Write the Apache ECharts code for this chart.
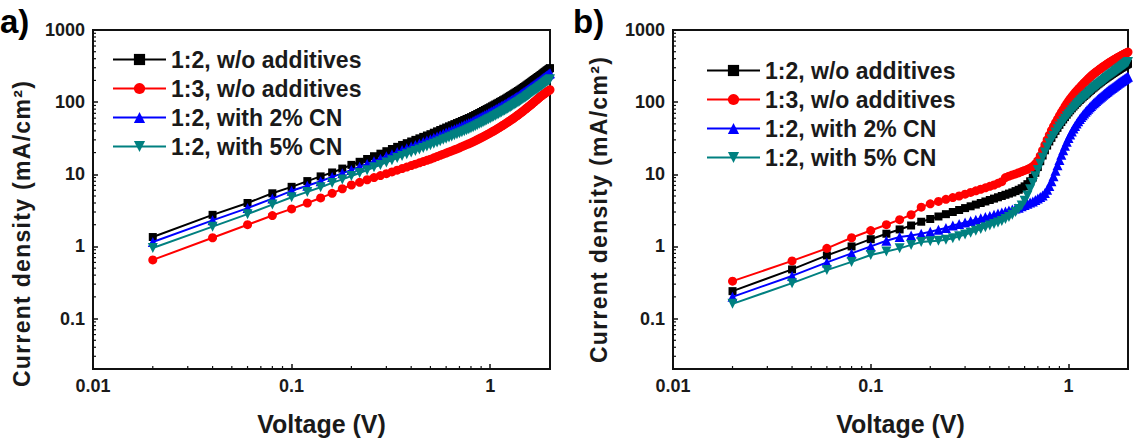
<!DOCTYPE html>
<html>
<head>
<meta charset="utf-8">
<script src="https://cdn.jsdelivr.net/npm/echarts@6/dist/echarts.min.js"></script>
<style>
  html, body { margin: 0; padding: 0; background: #fff; }
  #chart { width: 1143px; height: 441px; }
</style>
</head>
<body>
<div id="chart"></div>
<script>
// voltage points (V), shared by every curve
const voltage = [
  0.02, 0.04, 0.06, 0.08, 0.10, 0.12, 0.14, 0.16, 0.18, 0.20,
  0.22, 0.24, 0.26, 0.28, 0.30, 0.32, 0.34, 0.36, 0.38, 0.40,
  0.42, 0.44, 0.46, 0.48, 0.50, 0.52, 0.54, 0.56, 0.58, 0.60,
  0.62, 0.64, 0.66, 0.68, 0.70, 0.72, 0.74, 0.76, 0.78, 0.80,
  0.82, 0.84, 0.86, 0.88, 0.90, 0.92, 0.94, 0.96, 0.98, 1.00,
  1.02, 1.04, 1.06, 1.08, 1.10, 1.12, 1.14, 1.16, 1.18, 1.20,
  1.22, 1.24, 1.26, 1.28, 1.30, 1.32, 1.34, 1.36, 1.38, 1.40,
  1.42, 1.44, 1.46, 1.48, 1.50, 1.52, 1.54, 1.56, 1.58, 1.60,
  1.62, 1.64, 1.66, 1.68, 1.70, 1.72, 1.74, 1.76, 1.78, 1.80,
  1.82, 1.84, 1.86, 1.88, 1.90, 1.92, 1.94, 1.96, 1.98, 2.00
];

const seriesNames = ['1:2, w/o additives', '1:3, w/o additives', '1:2, with 2% CN', '1:2, with 5% CN'];

// panel a) current density (mA/cm2)
const a12 = [
  1.35, 2.74, 4.0, 5.45, 6.7, 8.05, 9.35, 10.6, 12.0, 13.5,
  14.9, 16.3, 17.8, 19.3, 20.9, 22.4, 24.0, 25.5, 27.0, 28.5,
  30.0, 31.5, 33.0, 34.5, 36.0, 37.7, 39.4, 41.1, 42.8, 44.5,
  46.2, 47.9, 49.6, 51.3, 53.0, 54.8, 56.6, 58.4, 60.2, 62.0,
  64.2, 66.4, 68.6, 70.8, 73.0, 75.4, 77.8, 80.2, 82.6, 85.0,
  87.6, 90.2, 92.8, 95.4, 98.0, 100.8, 103.6, 106.4, 109.2, 112,
  115.3, 118.6, 121.9, 125.2, 128.5, 132, 135.5, 139, 142.5, 146,
  150, 154, 158, 162, 166, 170.5, 175, 179.5, 184, 189,
  193.8, 198.6, 203.4, 208.2, 213, 218, 223, 228, 233, 238,
  243.8, 249.6, 255.4, 261.2, 267, 272.8, 278.6, 284.4, 290.2, 296
];
const a13 = [
  0.65, 1.32, 2.0, 2.68, 3.31, 4.0, 4.7, 5.45, 6.3, 7.1,
  7.75, 8.4, 9.0, 9.6, 10.2, 10.8, 11.4, 12.0, 12.6, 13.2,
  13.8, 14.4, 15.0, 15.6, 16.2, 16.9, 17.6, 18.3, 19.0, 19.7,
  20.4, 21.1, 21.8, 22.5, 23.3, 24.1, 24.9, 25.7, 26.5, 27.3,
  28.2, 29.1, 30.1, 31.1, 32.1, 33.1, 34.1, 35.2, 36.3, 37.4,
  38.6, 39.8, 41.0, 42.3, 43.6, 45.0, 46.4, 47.8, 49.2, 50.7,
  52.3, 53.9, 55.5, 57.2, 58.9, 60.7, 62.5, 64.4, 66.3, 68.3,
  70.4, 72.5, 74.7, 76.9, 79.2, 81.6, 84.0, 86.5, 89.0, 91.6,
  94.3, 97.0, 99.8, 102.6, 105.5, 108.5, 111.5, 114.6, 117.7, 120.9,
  123.5, 126.2, 129.0, 131.8, 134.6, 137.4, 140.2, 143.0, 145.8, 148.6
];
const a2cn = [
  1.15, 2.3, 3.4, 4.6, 5.9, 6.95, 8.0, 9.2, 10.3, 11.5,
  12.7, 13.9, 15.1, 16.4, 17.8, 19.0, 20.4, 21.7, 23.0, 24.2,
  25.5, 26.8, 28.0, 29.3, 30.6, 32.0, 33.5, 34.9, 36.4, 37.8,
  39.3, 40.7, 42.2, 43.6, 45.0, 46.6, 48.1, 49.6, 51.2, 52.7,
  54.6, 56.4, 58.3, 60.2, 62.0, 64.1, 66.1, 68.2, 70.2, 72.3,
  74.5, 76.7, 78.9, 81.1, 83.3, 85.7, 88.1, 90.4, 92.8, 95.2,
  98.0, 100.8, 103.6, 106.4, 109.2, 112.2, 115.2, 118.2, 121.1, 124.1,
  127.5, 130.9, 134.3, 137.7, 141.1, 144.9, 148.8, 152.6, 156.4, 160.7,
  164.7, 168.8, 172.9, 177.0, 181.1, 185.3, 189.6, 193.8, 198.1, 202.3,
  207.2, 212.2, 217.1, 222.0, 227.0, 231.9, 236.8, 241.7, 246.7, 251.6
];
const a5cn = [
  0.95, 1.88, 2.8, 3.8, 4.8, 5.7, 6.6, 7.6, 8.5, 9.45,
  10.4, 11.4, 12.5, 13.5, 14.6, 15.7, 16.8, 17.9, 18.9, 20.0,
  21.0, 22.1, 23.1, 24.2, 25.2, 26.4, 27.6, 28.8, 30.0, 31.2,
  32.3, 33.5, 34.7, 35.9, 37.1, 38.4, 39.6, 40.9, 42.1, 43.4,
  44.9, 46.5, 48.0, 49.6, 51.1, 52.8, 54.5, 56.1, 57.8, 59.5,
  61.3, 63.1, 65.0, 66.8, 68.6, 70.6, 72.5, 74.5, 76.4, 78.4,
  80.7, 83.0, 85.3, 87.6, 90.0, 92.4, 94.9, 97.3, 99.8, 102.2,
  105.0, 107.8, 110.6, 113.4, 116.2, 119.4, 122.5, 125.7, 128.8, 132.3,
  135.7, 139.0, 142.4, 145.7, 149.1, 152.6, 156.1, 159.6, 163.1, 166.6,
  170.7, 174.7, 178.8, 182.8, 186.9, 191.0, 195.0, 199.1, 203.1, 207.2
];

// panel b) current density (mA/cm2)
const b12 = [
  0.24, 0.48, 0.75, 1.0, 1.26, 1.5, 1.72, 1.95, 2.2, 2.4,
  2.6, 2.8, 3.0, 3.2, 3.4, 3.6, 3.8, 4.0, 4.2, 4.4,
  4.6, 4.8, 5.0, 5.2, 5.4, 5.6, 5.85, 6.1, 6.4, 6.8,
  7.3, 8.0, 9.0, 10.5, 12.6, 15.2, 18.2, 21.5, 25, 28.5,
  32, 36, 40, 44, 48.5, 53, 57.5, 62, 67, 72,
  77, 82, 87, 92, 97, 102, 107, 112, 117, 122,
  127, 132, 137, 143, 148, 154, 159, 165, 170, 176,
  181, 187, 192, 198, 203, 209, 214, 220, 225, 231,
  236, 242, 247, 253, 258, 264, 269, 275, 280, 286,
  291, 297, 302, 308, 313, 319, 324, 330, 335, 340
];
const b13 = [
  0.33, 0.63, 0.94, 1.32, 1.66, 2.0, 2.35, 2.75, 3.5, 3.9,
  4.2, 4.5, 4.75, 5.0, 5.3, 5.6, 5.9, 6.2, 6.5, 6.8,
  7.1, 7.5, 7.9, 9.0, 9.4, 9.8, 10.1, 10.5, 10.9, 11.3,
  11.7, 12.2, 12.9, 13.9, 15.5, 18, 21.5, 25.5, 30, 35,
  40.5, 46, 52, 58, 65, 72, 79, 87, 95, 103,
  111, 119, 127, 135, 143, 151, 159, 168, 176, 185,
  193, 202, 211, 220, 229, 238, 246, 254, 262, 270,
  278, 286, 294, 302, 310, 318, 326, 334, 341, 349,
  357, 364, 372, 379, 387, 394, 402, 409, 417, 424,
  431, 438, 445, 452, 459, 466, 473, 480, 487, 494
];
const b2cn = [
  0.2, 0.39, 0.6, 0.8, 1.0, 1.2, 1.35, 1.42, 1.5, 1.6,
  1.7, 1.8, 1.95, 2.05, 2.15, 2.25, 2.35, 2.45, 2.55, 2.65,
  2.75, 2.85, 2.95, 3.05, 3.15, 3.25, 3.35, 3.45, 3.6, 3.75,
  3.9, 4.05, 4.2, 4.4, 4.6, 4.85, 5.1, 5.5, 6.1, 6.9,
  8.0, 9.4, 11.2, 13.3, 15.8, 18.6, 21.6, 24.8, 28.2, 31.8,
  35.5, 39.2, 43, 46.8, 50.6, 54.4, 58.2, 62, 65.8, 69.6,
  73.4, 77.2, 81, 84.8, 88.6, 92.4, 96.2, 100, 103.8, 107.6,
  111.4, 115.2, 119, 122.8, 126.6, 130.4, 134.2, 138, 141.8, 145.6,
  149.4, 153.2, 157, 161, 165, 169, 173, 177, 181, 185,
  189, 193, 197, 201, 205, 209, 213, 217, 221, 225
];
const b5cn = [
  0.16, 0.31, 0.47, 0.61, 0.76, 0.85, 0.94, 1.05, 1.15, 1.18,
  1.2, 1.24, 1.3, 1.38, 1.46, 1.55, 1.65, 1.75, 1.85, 1.95,
  2.05, 2.15, 2.25, 2.4, 2.55, 2.75, 3.0, 3.3, 3.7, 4.3,
  5.1, 6.2, 7.6, 9.4, 11.5, 14, 17, 20, 23.5, 27,
  30.5, 34, 38, 42, 46, 50, 54.5, 59, 63.5, 68,
  72.5, 77, 82, 87, 92, 97, 102, 107, 112, 117,
  122, 127, 132, 138, 143, 149, 154, 160, 165, 171,
  176, 182, 187, 193, 198, 204, 210, 216, 222, 228,
  234, 240, 246, 252, 258, 264, 270, 277, 283, 290,
  296, 303, 310, 317, 324, 331, 338, 345, 352, 360
];

// log minor tick positions
const minorTicksX = [0.02, 0.03, 0.04, 0.05, 0.06, 0.07, 0.08, 0.09, 0.2, 0.3, 0.4, 0.5, 0.6, 0.7, 0.8, 0.9];
const minorTicksY = [
  0.03, 0.04, 0.05, 0.06, 0.07, 0.08, 0.09,
  0.2, 0.3, 0.4, 0.5, 0.6, 0.7, 0.8, 0.9,
  2, 3, 4, 5, 6, 7, 8, 9,
  20, 30, 40, 50, 60, 70, 80, 90,
  200, 300, 400, 500, 600, 700, 800, 900
];

const colors = ['#000000', '#ff0000', '#0000ff', '#008080'];
const symbols = ['rect', 'circle', 'triangle', 'triangle'];
const symbolSizes = [8, 9, 10, 10];
const symbolRotates = [0, 0, 0, 180];
const FONT = 'Liberation Sans, Arial, sans-serif';
const TEXT = '#1a1a1a';
const X_MIN = 0.01, X_MAX = 2, Y_MIN = 0.02, Y_MAX = 1000;
const Y_NAME = 'Current density (mA/cm²)';

const chart = echarts.init(document.getElementById('chart'), null, { renderer: 'svg' });

function isDecade(v) {
  const l = Math.log10(v);
  return Math.abs(l - Math.round(l)) < 1e-6;
}

function decadeLabel(v) {
  return isDecade(v) ? String(+v.toPrecision(6)) : '';
}

function xAxisFor(gridIndex) {
  return {
    type: 'log', gridIndex: gridIndex, logBase: 10, min: X_MIN, max: X_MAX,
    name: 'Voltage (V)', nameLocation: 'middle', nameGap: 42,
    nameTextStyle: { fontFamily: FONT, fontSize: 25, fontWeight: 'bold', color: TEXT },
    axisLine: { lineStyle: { color: '#111', width: 2 } },
    axisTick: { inside: true, length: 5, lineStyle: { color: '#111', width: 1.5 } },
    axisLabel: { margin: 8, fontFamily: FONT, fontSize: 18, fontWeight: 'bold', color: TEXT, formatter: decadeLabel },
    splitLine: { show: false }
  };
}

function yAxisFor(gridIndex, gap, shift) {
  return {
    type: 'log', gridIndex: gridIndex, logBase: 10, min: Y_MIN, max: Y_MAX,
    name: Y_NAME, nameLocation: 'middle', nameGap: gap,
    nameTextStyle: {
      fontFamily: FONT, fontSize: 23, fontWeight: 'bold', color: TEXT,
      padding: [0, shift * 2, 0, 0]
    },
    axisLine: { lineStyle: { color: '#111', width: 2 } },
    axisTick: { inside: true, length: 5, lineStyle: { color: '#111', width: 1.5 } },
    axisLabel: { margin: 8, fontFamily: FONT, fontSize: 18, fontWeight: 'bold', color: TEXT, formatter: decadeLabel },
    splitLine: { show: false }
  };
}

function curves(idx, arrays) {
  return arrays.map(function (arr, k) {
    return {
      name: seriesNames[k], type: 'line', xAxisIndex: idx, yAxisIndex: idx,
      data: voltage.map(function (v, i) { return [v, arr[i]]; }),
      symbol: symbols[k], symbolSize: symbolSizes[k], symbolRotate: symbolRotates[k],
      showSymbol: true, showAllSymbol: true,
      lineStyle: { color: colors[k], width: 2 },
      itemStyle: { color: colors[k] },
      z: 3 + k
    };
  });
}

// short inward minor ticks at 2..9 of each decade, placed through the axes
function minorTicks(idx) {
  return [
    {
      type: 'custom', xAxisIndex: idx, yAxisIndex: idx, silent: true, clip: false, z: 10,
      data: minorTicksX.map(function (v) { return [v, Y_MIN]; }),
      renderItem: function (params, api) {
        const p = api.coord([api.value(0), api.value(1)]);
        return { type: 'line', shape: { x1: p[0], y1: p[1], x2: p[0], y2: p[1] - 3 }, style: { stroke: '#111', lineWidth: 1.2 } };
      }
    },
    {
      type: 'custom', xAxisIndex: idx, yAxisIndex: idx, silent: true, clip: false, z: 10,
      data: minorTicksY.map(function (v) { return [X_MIN, v]; }),
      renderItem: function (params, api) {
        const p = api.coord([api.value(0), api.value(1)]);
        return { type: 'line', shape: { x1: p[0], y1: p[1], x2: p[0] + 3, y2: p[1] }, style: { stroke: '#111', lineWidth: 1.2 } };
      }
    }
  ];
}

function legendFor(left, top) {
  return {
    orient: 'vertical', left: left, top: top, padding: 0, selectedMode: false,
    data: seriesNames, itemWidth: 53, itemHeight: 14, itemGap: 6,
    textStyle: { fontFamily: FONT, fontSize: 23, fontWeight: 'bold', color: TEXT }
  };
}

const option = {
  animation: false,
  backgroundColor: '#ffffff',
  title: [
    { text: 'a)', left: 0, top: 5, padding: 0, textStyle: { fontFamily: FONT, fontSize: 33, fontWeight: 'bold', color: '#000' } },
    { text: 'b)', left: 573, top: 5, padding: 0, textStyle: { fontFamily: FONT, fontSize: 33, fontWeight: 'bold', color: '#000' } }
  ],
  legend: [legendFor(112, 48), legendFor(706, 59)],
  grid: [
    { left: 93, top: 30, width: 457, height: 340, show: true, borderColor: '#111', borderWidth: 2, backgroundColor: 'transparent' },
    { left: 673, top: 30, width: 455, height: 339, show: true, borderColor: '#111', borderWidth: 2, backgroundColor: 'transparent' }
  ],
  xAxis: [xAxisFor(0), xAxisFor(1)],
  yAxis: [yAxisFor(0, 60, 34), yAxisFor(1, 63, 10)],
  series: []
    .concat(curves(0, [a12, a13, a2cn, a5cn]))
    .concat(curves(1, [b12, b13, b2cn, b5cn]))
    .concat(minorTicks(0))
    .concat(minorTicks(1))
};

// the printed y title is set with wide letter spacing
function spaceYNames() {
  document.querySelectorAll('#chart text').forEach(function (t) {
    if (t.textContent === Y_NAME) t.setAttribute('letter-spacing', '1.3');
  });
}

chart.on('finished', spaceYNames);
chart.setOption(option);
spaceYNames();
window.addEventListener('resize', function () { chart.resize(); });
</script>
</body>
</html>
